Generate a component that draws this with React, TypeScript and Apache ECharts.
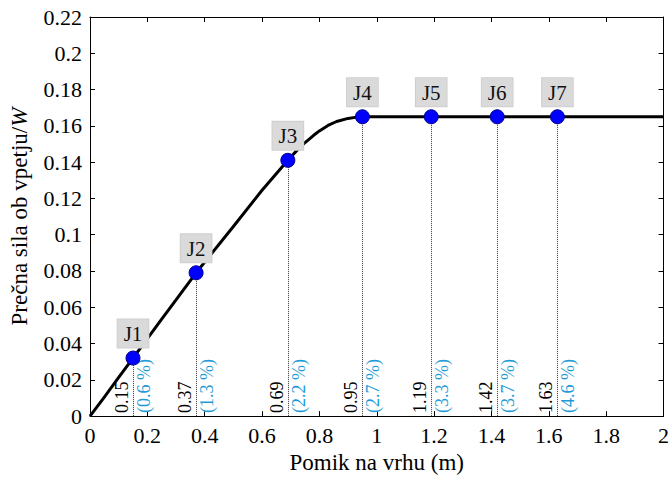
import React, { useEffect, useRef } from "react";
import * as echarts from "echarts";

const jointNames = ["J1", "J2", "J3", "J4", "J5", "J6", "J7"];
const jointX = [0.15, 0.37, 0.69, 0.95, 1.19, 1.42, 1.63];
const jointY = [0.032, 0.079, 0.141, 0.165, 0.165, 0.165, 0.165];
const dispLabels = ["0.15", "0.37", "0.69", "0.95", "1.19", "1.42", "1.63"];
const driftLabels = ["(0.6 %)", "(1.3 %)", "(2.2 %)", "(2.7 %)", "(3.3 %)", "(3.7 %)", "(4.6 %)"];
const curveX = [0, 0.05, 0.1, 0.15, 0.25, 0.37, 0.5, 0.6, 0.69, 0.72, 0.75, 0.78, 0.8, 0.83, 0.86, 0.9, 0.93, 0.95, 2.0];
const curveY = [0, 0.0105, 0.0213, 0.032, 0.0535, 0.079, 0.1045, 0.1245, 0.141, 0.1462, 0.1508, 0.1548, 0.1572, 0.1602, 0.1624, 0.1641, 0.1648, 0.165, 0.165];

const FONT = "Liberation Serif";

export default function App() {
  const ref = useRef<HTMLDivElement>(null);
  useEffect(() => {
    if (!ref.current) return;
    const chart = echarts.init(ref.current, null, { renderer: "svg" });
    const axisCommon = {
      axisLine: { show: true, onZero: false, lineStyle: { color: "#000", width: 1 } },
      axisTick: { show: true, inside: true, length: 5, lineStyle: { color: "#000" } },
      splitLine: { show: false },
    };
    const markData: any[] = [];
    jointX.forEach((x, i) => {
      markData.push([
        {
          coord: [x, 0],
          label: {
            show: true,
            position: "insideStartTop",
            formatter: dispLabels[i],
            color: "#000",
            fontSize: 18,
            fontFamily: FONT,
            distance: [3, 2],
          },
        },
        { coord: [x, jointY[i]] },
      ]);
      markData.push([
        {
          coord: [x, 0],
          label: {
            show: true,
            position: "insideStartBottom",
            formatter: driftLabels[i],
            color: "#1E9BD7",
            fontSize: 18,
            fontFamily: FONT,
            distance: [3, 2],
          },
        },
        { coord: [x, jointY[i]] },
      ]);
    });
    chart.setOption({
      animation: false,
      textStyle: { fontFamily: FONT },
      grid: { left: 90, right: 5, top: 17, bottom: 58, containLabel: false },
      xAxis: [
        {
          type: "value",
          min: 0,
          max: 2,
          interval: 0.2,
          position: "bottom",
          ...axisCommon,
          axisLabel: { color: "#000", fontSize: 22, fontFamily: FONT, margin: 8 },
          name: "Pomik na vrhu (m)",
          nameLocation: "middle",
          nameGap: 34,
          nameTextStyle: { color: "#000", fontSize: 23, fontFamily: FONT },
        },
        {
          type: "value",
          min: 0,
          max: 2,
          interval: 0.2,
          position: "top",
          ...axisCommon,
          axisLabel: { show: false },
        },
      ],
      yAxis: [
        {
          type: "value",
          min: 0,
          max: 0.22,
          interval: 0.02,
          position: "left",
          ...axisCommon,
          axisLabel: { color: "#000", fontSize: 22, fontFamily: FONT, margin: 8 },
          name: "{n|Prečna sila ob vpetju/}{i|W}",
          nameLocation: "middle",
          nameGap: 59,
          nameRotate: 90,
          nameTextStyle: {
            color: "#000",
            fontSize: 23,
            fontFamily: FONT,
            rich: {
              n: { fontSize: 23, fontFamily: FONT, color: "#000" },
              i: { fontSize: 23, fontFamily: FONT, color: "#000", fontStyle: "italic" },
            },
          },
        },
        {
          type: "value",
          min: 0,
          max: 0.22,
          interval: 0.02,
          position: "right",
          ...axisCommon,
          axisLabel: { show: false },
        },
      ],
      series: [
        {
          type: "line",
          data: curveX.map((x, i) => [x, curveY[i]]),
          showSymbol: false,
          symbol: "none",
          smooth: false,
          lineStyle: { color: "#000", width: 3, join: "round" },
          z: 2,
          markLine: {
            silent: true,
            symbol: ["none", "none"],
            lineStyle: { color: "#555", type: "dotted", width: 1 },
            data: markData,
            z: 1,
          },
        },
        {
          type: "scatter",
          data: jointX.map((x, i) => [x, jointY[i]]),
          symbol: "circle",
          symbolSize: 14,
          itemStyle: { color: "#0000FF", borderColor: "#00008B", borderWidth: 1, opacity: 1 },
          label: {
            show: true,
            position: "top",
            distance: 3,
            formatter: (p: any) => jointNames[p.dataIndex],
            color: "#111",
            fontSize: 21,
            fontFamily: FONT,
            backgroundColor: "#DADADA",
            borderColor: "#CFCFCF",
            borderWidth: 1,
            padding: [4, 6, 3, 6],
          },
          z: 3,
        },
      ],
    });
    return () => chart.dispose();
  }, []);
  return (
    <div
      ref={ref}
      style={{ position: "fixed", left: 0, top: 0, width: 672, height: 479, background: "#fff" }}
    />
  );
}
